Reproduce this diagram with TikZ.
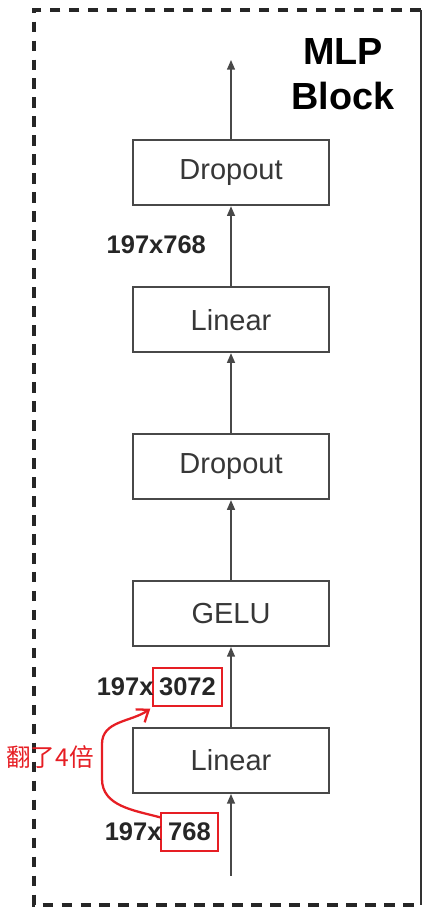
\documentclass[tikz,border=0pt]{standalone}
\usepackage{fontspec}
\setmainfont{Liberation Sans}
\newfontfamily\cjkfont{Noto Sans CJK SC}
\usepackage{xcolor}
\definecolor{blkgray}{RGB}{72,72,72}
\definecolor{txtgray}{RGB}{55,55,55}
\definecolor{markred}{RGB}{230,30,36}
\usetikzlibrary{arrows.meta, positioning}

\tikzset{
  layer/.style={draw=blkgray, line width=1.1pt, minimum width=3.92cm, minimum height=1.3cm, inner sep=0pt, font=\fontsize{16.5}{19}\selectfont, text=txtgray},
  flow/.style={draw=blkgray, line width=0.85pt, -{Triangle[length=5.5pt,width=4.5pt]}},
  dimlbl/.style={font=\fontsize{14.5}{17}\selectfont\bfseries, text=black!85, inner sep=1pt},
  markbox/.style={draw=markred, line width=1.1pt, inner sep=0pt, minimum height=0.76cm},
}

\begin{document}
\begin{tikzpicture}
  \useasboundingbox (0,0) rectangle (8.46,18.18);
  % Dashed block frame (right side cut off as a thin rule)
  \draw[black!85, line width=2pt, dash pattern=on 6pt off 4.8pt] (8.42,17.98) -- (0.68,17.98) -- (0.68,0.08) -- (8.42,0.08);
  \draw[black!80, line width=0.6pt] (8.42,17.98) -- (8.42,0.08);
  \node[font=\fontsize{21.5}{25.5}\selectfont\bfseries, align=center] (title) at (6.86,16.69) {MLP\\Block};

  % Layers, bottom to top
  \node[layer] (lin1) at (4.62,2.97) {Linear};
  \node[layer, above=1.6cm of lin1] (gelu) {GELU};
  \node[layer, above=1.6cm of gelu] (drop1) {Dropout};
  \node[layer, above=1.6cm of drop1] (lin2) {Linear};
  \node[layer, above=1.6cm of lin2] (drop2) {Dropout};

  \coordinate (in) at (4.62,0.66);
  \coordinate (out) at (4.62,16.98);
  \draw[flow] (in) -- (lin1);
  \draw[flow] (lin1) -- (gelu);
  \draw[flow] (gelu) -- (drop1);
  \draw[flow] (drop1) -- (lin2);
  \draw[flow] (lin2) -- (drop2);
  \draw[flow] (drop2) -- (out);

  % Tensor shapes
  \node[dimlbl, anchor=east] (dimtop) at (4.16,13.28) {197x768};
  \node[dimlbl, markbox, minimum width=1.38cm] (wide) at (3.75,4.44) {3072};
  \node[dimlbl, left=-2pt of wide] (widepre) {197x};
  \node[dimlbl, markbox, minimum width=1.14cm] (narrow) at (3.79,1.54) {768};
  \node[dimlbl, left=-2pt of narrow] (narrowpre) {197x};

  % Red annotation
  \draw[markred, line width=1.3pt, line cap=round, -{Straight Barb[length=6pt,width=9pt]}]
    ([yshift=-3pt]narrow.north west) to[out=165,in=-90] (2.04,2.6) -- (2.04,3.3)
    to[out=90,in=215] ([xshift=-1pt,yshift=-1pt]wide.south west);
  \node[font=\fontsize{14}{17}\cjkfont, text=markred] (note) at (1.0,3.04) {翻了4倍};
\end{tikzpicture}
\end{document}
